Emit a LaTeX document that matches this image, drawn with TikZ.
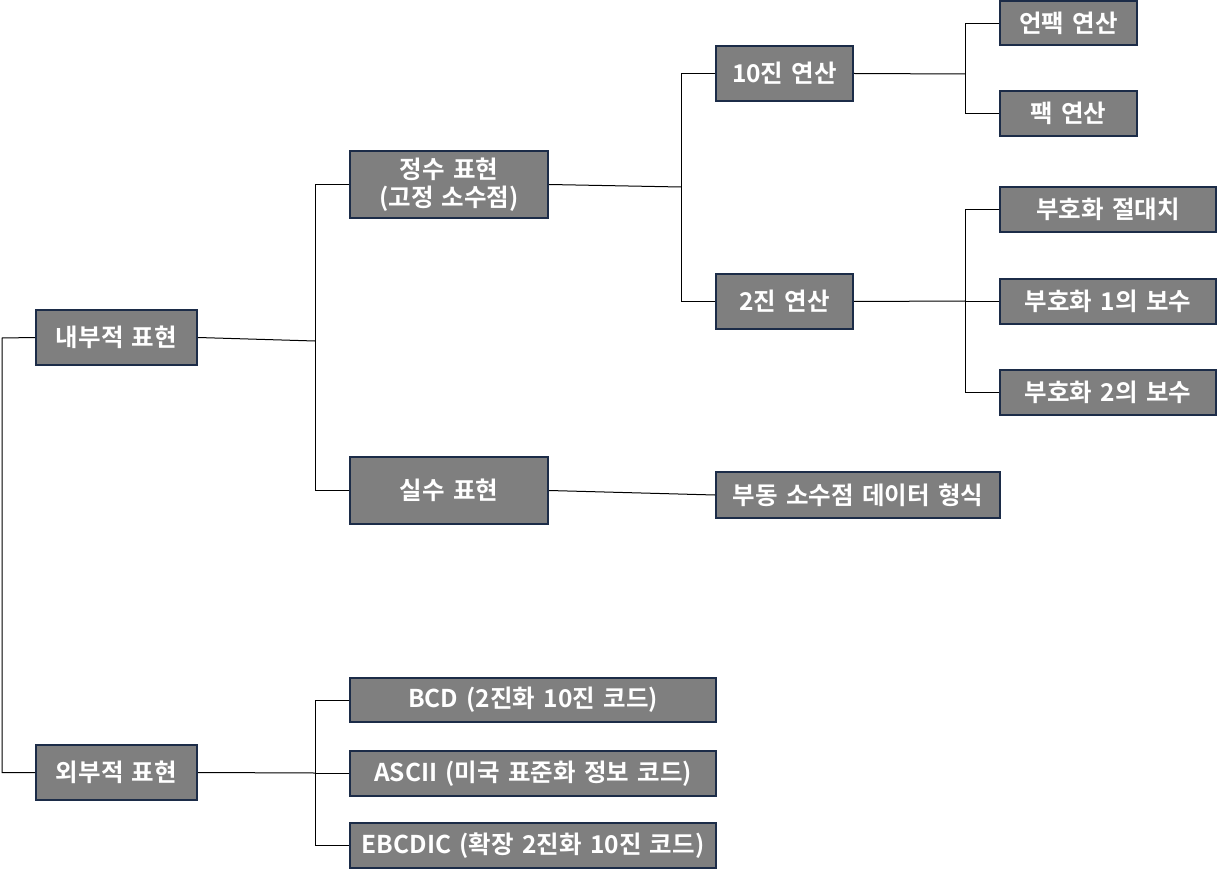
\documentclass[tikz,border=0pt]{standalone}
\usepackage{fontspec}
\setmainfont{Noto Sans CJK KR}[BoldFont={Noto Sans CJK KR Bold},WordSpace=1.5]
\definecolor{boxfill}{HTML}{7F7F7F}
\definecolor{boxline}{HTML}{1C2C48}
\tikzset{
  box/.style={draw=boxline, line width=2pt, fill=boxfill, text=white, font=\bfseries\fontsize{24.5}{28}\selectfont, inner sep=0pt, align=center, minimum width=#1, minimum height=55},
  conn/.style={draw=black, line width=1pt},
}
\begin{document}
\begin{tikzpicture}[x=1pt,y=-1pt]
\useasboundingbox (0,0) rectangle (1217,874);
\node[box=161] (inner) at (116.5,337.5) {내부적 표현};
\node[box=161] (outer) at (116.5,772.5) {외부적 표현};
\node[box=198, minimum height=67] (int) at (449,184.5) {정수 표현\\(고정 소수점)};
\node[box=198, minimum height=67] (real) at (449,490.5) {실수 표현};
\node[box=137] (dec) at (784.5,73.5) {10진 연산};
\node[box=137] (bin) at (784.5,301.5) {2진 연산};
\node[box=284, minimum height=46] (flt) at (858,495) {부동 소수점 데이터 형식};
\node[box=137, minimum height=44] (unp) at (1068.5,23.5) {언팩 연산};
\node[box=137, minimum height=45] (pck) at (1068.5,113.5) {팩 연산};
\node[box=216, minimum height=45] (s1) at (1108,209.5) {부호화 절대치};
\node[box=216, minimum height=45] (s2) at (1108,301.5) {부호화 1의 보수};
\node[box=216, minimum height=45] (s3) at (1108,392.5) {부호화 2의 보수};
\node[box=366, minimum height=44] (bcd) at (533,700) {BCD (2진화 10진 코드)};
\node[box=366, minimum height=45] (ascii) at (533,773.5) {ASCII (미국 표준화 정보 코드)};
\node[box=366, minimum height=45] (ebc) at (533,845.5) {EBCDIC (확장 2진화 10진 코드)};

\coordinate (j0) at (2,338);
\coordinate (j1) at (315,341);
\coordinate (j2) at (681,187);
\coordinate (j3) at (965,74);
\coordinate (j4) at (965,301);
\coordinate (j5) at (315,773);

\draw[conn] (inner.west) -- (j0) |- (outer.west);
\draw[conn] (inner.east) -- (j1);
\draw[conn] (int.west) -| (real.west -| j1) -- (real.west);
\draw[conn] (int.west) -- (int.west -| j1);
\draw[conn] (int.east) -- (j2);
\draw[conn] (dec.west) -| (bin.west -| j2) -- (bin.west);
\draw[conn] (dec.east) -- (j3);
\draw[conn] (unp.west) -| (pck.west -| j3) -- (pck.west);
\draw[conn] (bin.east) -- (j4);
\draw[conn] (s1.west) -| (s3.west -| j4) -- (s3.west);
\draw[conn] (s2.west) -- (s2.west -| j4);
\draw[conn] (real.east) -- (flt.west);
\draw[conn] (outer.east) -- (j5);
\draw[conn] (bcd.west) -| (ebc.west -| j5) -- (ebc.west);
\draw[conn] (ascii.west) -- (ascii.west -| j5);
\end{tikzpicture}
\end{document}
